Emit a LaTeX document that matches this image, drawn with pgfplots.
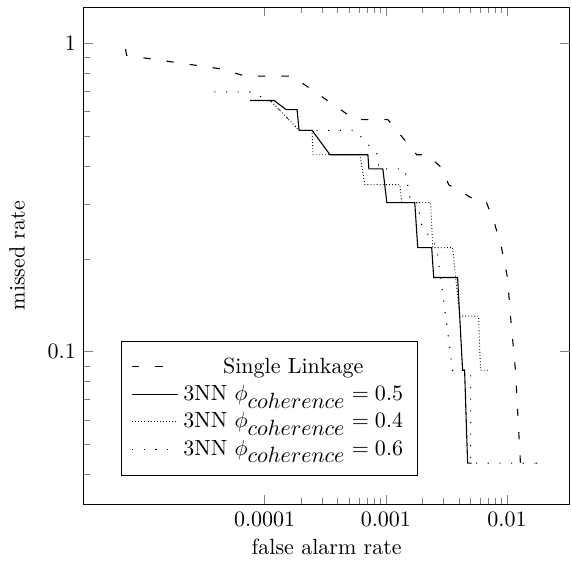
\documentclass[border=0pt]{standalone}
\usepackage{pgfplots}
\pgfplotsset{compat=1.18}
\begin{document}
\begin{tikzpicture}
\begin{axis}[
  scale only axis, width=221pt, height=226pt,
  xmode=log, ymode=log,
  xmin=3.2e-6, xmax=0.033, ymin=0.032, ymax=1.31,
  xtick={0.0001,0.001,0.01}, xticklabels={0.0001,0.001,0.01},
  ytick={0.01,0.1,1}, yticklabels={0.01,0.1,1},
  ytick pos=left,
  extra y ticks={0.1,1}, extra y tick labels={},
  extra y tick style={ytick pos=right},
  xlabel={false alarm rate}, ylabel={missed rate},
  ylabel shift=3.5pt,
  xlabel style={yshift=1.4pt},
  legend style={at={(0.077,0.058)}, anchor=south west, draw=black,
    inner ysep=5.5pt, inner xsep=4.6pt},
  legend cell align=center,
  legend image code/.code={\draw[mark repeat=2,mark phase=2,#1] plot coordinates {(0pt,0pt) (10.5pt,0pt) (21pt,0pt)};},
]
\addplot[black, line width=0.5pt, dash pattern=on 3.3pt off 7.3pt] coordinates {
(7.11e-6,0.9565)(7.24e-6,0.9130)(4.30e-5,0.8261)(6.91e-5,0.7826)(1.684e-4,0.7826)
(5.56e-4,0.5652)(1.039e-3,0.5652)(1.800e-3,0.4348)(2.217e-3,0.4348)(2.945e-3,0.3913)
(3.299e-3,0.3478)(5.94e-3,0.3043)(6.78e-3,0.3043)(7.89e-3,0.2609)(9.01e-3,0.2174)
(1.0095e-2,0.1739)(1.069e-2,0.1304)(1.175e-2,0.0870)(1.291e-2,0.0435)(1.782e-2,0.0435)};
\addlegendentry{Single Linkage}
\addplot[black, line width=0.5pt] coordinates {
(7.60e-5,0.6522)(1.197e-4,0.6522)(1.503e-4,0.6087)(1.851e-4,0.6087)(1.923e-4,0.5217)
(2.460e-4,0.5217)(3.460e-4,0.4348)(7.111e-4,0.4348)(7.247e-4,0.3913)(9.45e-4,0.3913)
(1.019e-3,0.3043)(1.733e-3,0.3043)(1.834e-3,0.2174)(2.391e-3,0.2174)(2.484e-3,0.1739)
(3.913e-3,0.1739)(4.302e-3,0.0870)(4.469e-3,0.0870)(4.731e-3,0.0435)(5.103e-3,0.0435)};
\addlegendentry{3NN $\phi_{\textstyle coherence} = 0.5$}
\addplot[black, line width=0.4pt, dash pattern=on 0.4pt off 1pt] coordinates {
(7.60e-5,0.6522)(1.11e-4,0.6522)(1.923e-4,0.5217)(2.460e-4,0.5217)(2.507e-4,0.4348)
(6.109e-4,0.4348)(6.718e-4,0.3478)(1.304e-3,0.3478)(1.354e-3,0.3043)(2.346e-3,0.3043)
(2.437e-3,0.2174)(3.559e-3,0.2174)(4.065e-3,0.1304)(5.827e-3,0.1304)(6.052e-3,0.0870)
(7.178e-3,0.0870)};
\addlegendentry{3NN $\phi_{\textstyle coherence} = 0.4$}
\addplot[black, line width=0.5pt, dash pattern=on 0.5pt off 4.8pt] coordinates {
(3.84e-5,0.6957)(7.45e-5,0.6957)(1.11e-4,0.6522)(1.923e-4,0.5217)(5.56e-4,0.5217)
(8.59e-4,0.4348)(8.76e-4,0.3913)(1.434e-3,0.3913)(1.607e-3,0.3043)(1.834e-3,0.3043)
(1.942e-3,0.2609)(2.629e-3,0.2174)(3.117e-3,0.1304)(3.559e-3,0.0870)(5.007e-3,0.0870)
(5.007e-3,0.0435)(1.749e-2,0.0435)};
\addlegendentry{3NN $\phi_{\textstyle coherence} = 0.6$}
\end{axis}
\path (current axis.south west) ++(-38pt,-27.7pt);
\path (current axis.north east) ++(1pt,3.2pt);
\end{tikzpicture}
\end{document}
